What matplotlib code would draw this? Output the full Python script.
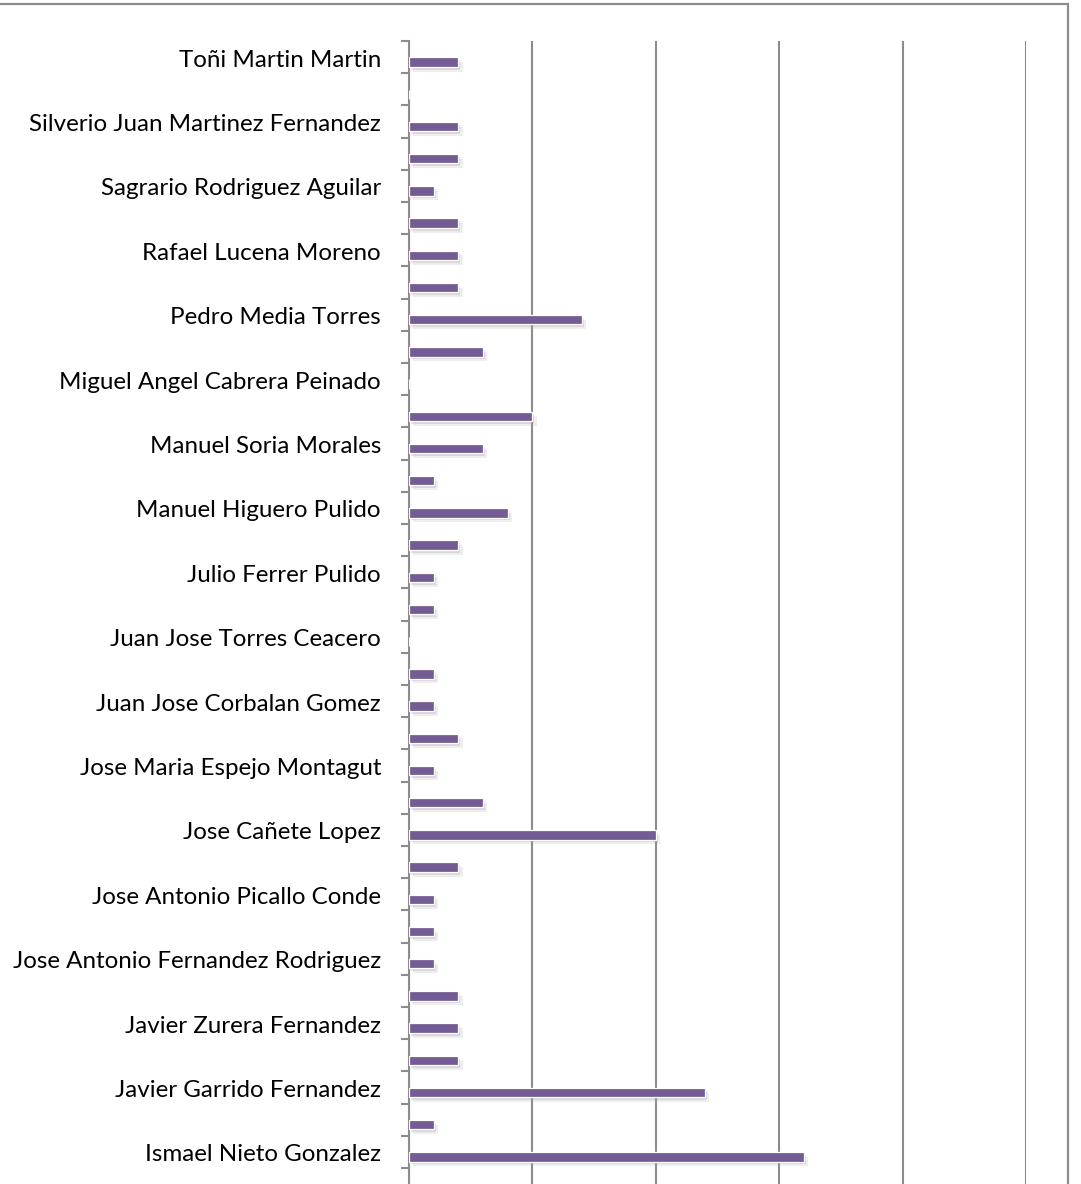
import matplotlib
matplotlib.use("Agg")
import matplotlib.pyplot as plt
import matplotlib.patheffects as pe
import matplotlib.transforms as mtransforms
from matplotlib.patches import Rectangle

# Categories top-to-bottom as displayed (only every other label is shown in the reference)
categories = [
    "Toñi Martin Martin", "",
    "Silverio Juan Martinez Fernandez", "",
    "Sagrario Rodriguez Aguilar", "",
    "Rafael Lucena Moreno", "",
    "Pedro Media Torres", "",
    "Miguel Angel Cabrera Peinado", "",
    "Manuel Soria Morales", "",
    "Manuel Higuero Pulido", "",
    "Julio Ferrer Pulido", "",
    "Juan Jose Torres Ceacero", "",
    "Juan Jose Corbalan Gomez", "",
    "Jose Maria Espejo Montagut", "",
    "Jose Cañete Lopez", "",
    "Jose Antonio Picallo Conde", "",
    "Jose Antonio Fernandez Rodriguez", "",
    "Javier Zurera Fernandez", "",
    "Javier Garrido Fernandez", "",
    "Ismael Nieto Gonzalez", "",
]
values = [
    2, 0,
    2, 2,
    1, 2,
    2, 2,
    7, 3,
    0, 5,
    3, 1,
    4, 2,
    1, 1,
    0, 1,
    1, 2,
    1, 3,
    10, 2,
    1, 1,
    1, 2,
    2, 2,
    12, 1,
    16, 1,
]
x_ticks = [0, 5, 10, 15, 20, 25]

W, H = 1081, 1184
fig = plt.figure(figsize=(W / 100, H / 100), dpi=100)
fig.patch.set_facecolor("white")

# outer chart border
fig.patches.append(Rectangle((-10 / W, -10 / H), (1068 + 10) / W, (H - 4 + 10) / H,
                             transform=fig.transFigure, fill=False,
                             edgecolor="#8c8c8c", linewidth=1.6))

ax_left = 409 / W
ax_right = 1026 / W
ax_top = 1 - 41 / H
ax = fig.add_axes([ax_left, 0, ax_right - ax_left, ax_top])

ypos = list(range(len(categories)))
offset = 5 / 32.2
bar_y = [y + offset for y in ypos]
bars = ax.barh(bar_y, values, height=0.29, color="#735C94",
               edgecolor="white", linewidth=0.9, zorder=3)
for b in bars:
    b.set_path_effects([pe.SimplePatchShadow(offset=(3, -3.5), shadow_rgbFace="#aaaaaa", alpha=0.2),
                        pe.SimplePatchShadow(offset=(1.5, -2), shadow_rgbFace="#999999", alpha=0.25),
                        pe.Normal()])

ax.set_xlim(0, 25)
ax.set_xticks(x_ticks)
ax.set_xticklabels([])
ax.tick_params(axis="x", length=0)
ax.grid(axis="x", color="#8c8c8c", linewidth=1.5, zorder=0)
ax.set_axisbelow(True)

ax.set_yticks(ypos)
ax.set_yticklabels([])
ax.set_yticks([y - 0.5 for y in ypos] + [len(ypos) - 0.5], minor=True)
ax.tick_params(axis="y", which="major", length=0)
ax.tick_params(axis="y", which="minor", length=6, width=1.5, color="#8c8c8c")
ax.set_ylim((H - 41) / 32.2 - 0.5, -0.5)

label_tr = ax.transData + mtransforms.ScaledTranslation(0, -3 / 100, fig.dpi_scale_trans)
for y, name in zip(ypos, categories):
    if name:
        ax.text(-28 / 617 * 25, y, name, ha="right", va="center",
                fontsize=17.4, family=["Lato", "DejaVu Sans"], color="black",
                transform=label_tr, clip_on=False)

for s in ["top", "right", "bottom"]:
    ax.spines[s].set_visible(False)
ax.spines["left"].set_color("#8c8c8c")
ax.spines["left"].set_linewidth(1.5)
ax.set_facecolor("none")

fig.savefig("out.png", dpi=100)
